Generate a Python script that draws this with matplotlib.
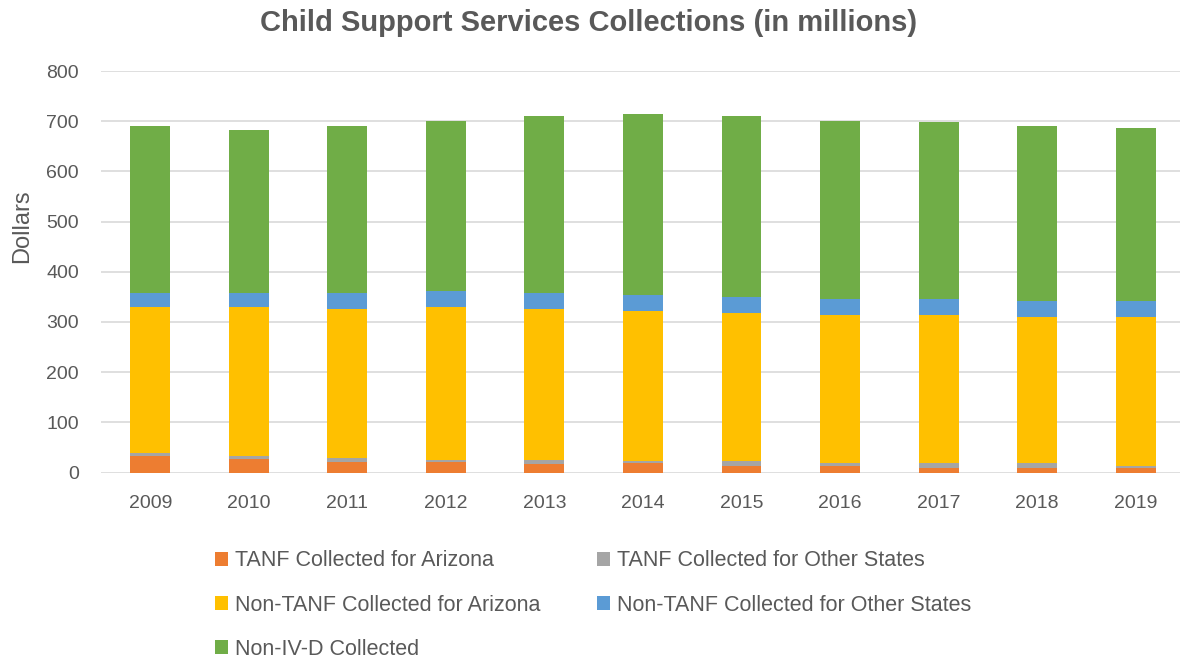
import numpy as np
import matplotlib.pyplot as plt
from matplotlib.patches import Patch

plt.rcParams['font.family'] = ['Liberation Sans', 'DejaVu Sans']

# Dane (w milionach)
years = ['2009', '2010', '2011', '2012', '2013', '2014', '2015', '2016', '2017', '2018', '2019']
tanf_az = [33, 26, 21, 21, 16, 18, 13, 13, 9, 9, 9]
tanf_other = [5, 7, 8, 4, 9, 4, 9, 5, 9, 9, 4]
non_tanf_az = [292, 297, 296, 305, 300, 300, 296, 296, 296, 292, 297]
non_tanf_other = [28, 28, 33, 32, 33, 31, 32, 31, 31, 31, 31]
non_ivd = [333, 325, 333, 339, 353, 362, 361, 356, 353, 350, 345]

labels = ['TANF Collected for Arizona', 'TANF Collected for Other States',
          'Non-TANF Collected for Arizona', 'Non-TANF Collected for Other States',
          'Non-IV-D Collected']
colors = ['#ED7D31', '#A5A5A5', '#FFC000', '#5B9BD5', '#70AD47']
series = [tanf_az, tanf_other, non_tanf_az, non_tanf_other, non_ivd]

text_color = '#595959'

fig = plt.figure(figsize=(11.82, 6.58), dpi=100)
ax = fig.add_axes([101 / 1182, 1 - 472.5 / 658, (1180 - 101) / 1182, (472.5 - 71) / 658])

x = np.arange(len(years))
bottom = np.zeros(len(years))
for vals, col, lab in zip(series, colors, labels):
    ax.bar(x, vals, width=0.405, bottom=bottom, color=col, label=lab, zorder=3)
    bottom += np.array(vals)

ax.set_ylim(0, 800)
ax.set_xlim(-0.5, 10.45)
ax.set_yticks(range(0, 801, 100))
ax.set_xticks(x)
ax.set_xticklabels(years)
ax.grid(axis='y', color='#d9d9d9', linewidth=1.2, zorder=0)
for s in ax.spines.values():
    s.set_visible(False)
ax.tick_params(axis='both', length=0, labelsize=14, colors=text_color)
ax.tick_params(axis='x', pad=16)
ax.tick_params(axis='y', pad=16)

fig.text(0.498, 1 - 23 / 658, 'Child Support Services Collections (in millions)',
         ha='center', va='center', fontsize=21, fontweight='bold', color=text_color)
fig.text(22 / 1182, 1 - 226 / 658, 'Dollars', rotation=90, ha='center', va='center',
         fontsize=17, color=text_color)

# legenda: wiersz po wierszu
order = [0, 2, 4, 1, 3]
handles = [Patch(facecolor=colors[i]) for i in order]
fig.legend(handles, [labels[i] for i in order], ncol=2, loc='upper left',
           bbox_to_anchor=(196 / 1182, 1 - 531 / 658), frameon=False,
           fontsize=15.5, labelcolor=text_color, handlelength=0.6, handleheight=0.6,
           handletextpad=0.3, labelspacing=1.08, columnspacing=2.65)

fig.savefig('out.png', dpi=100)
